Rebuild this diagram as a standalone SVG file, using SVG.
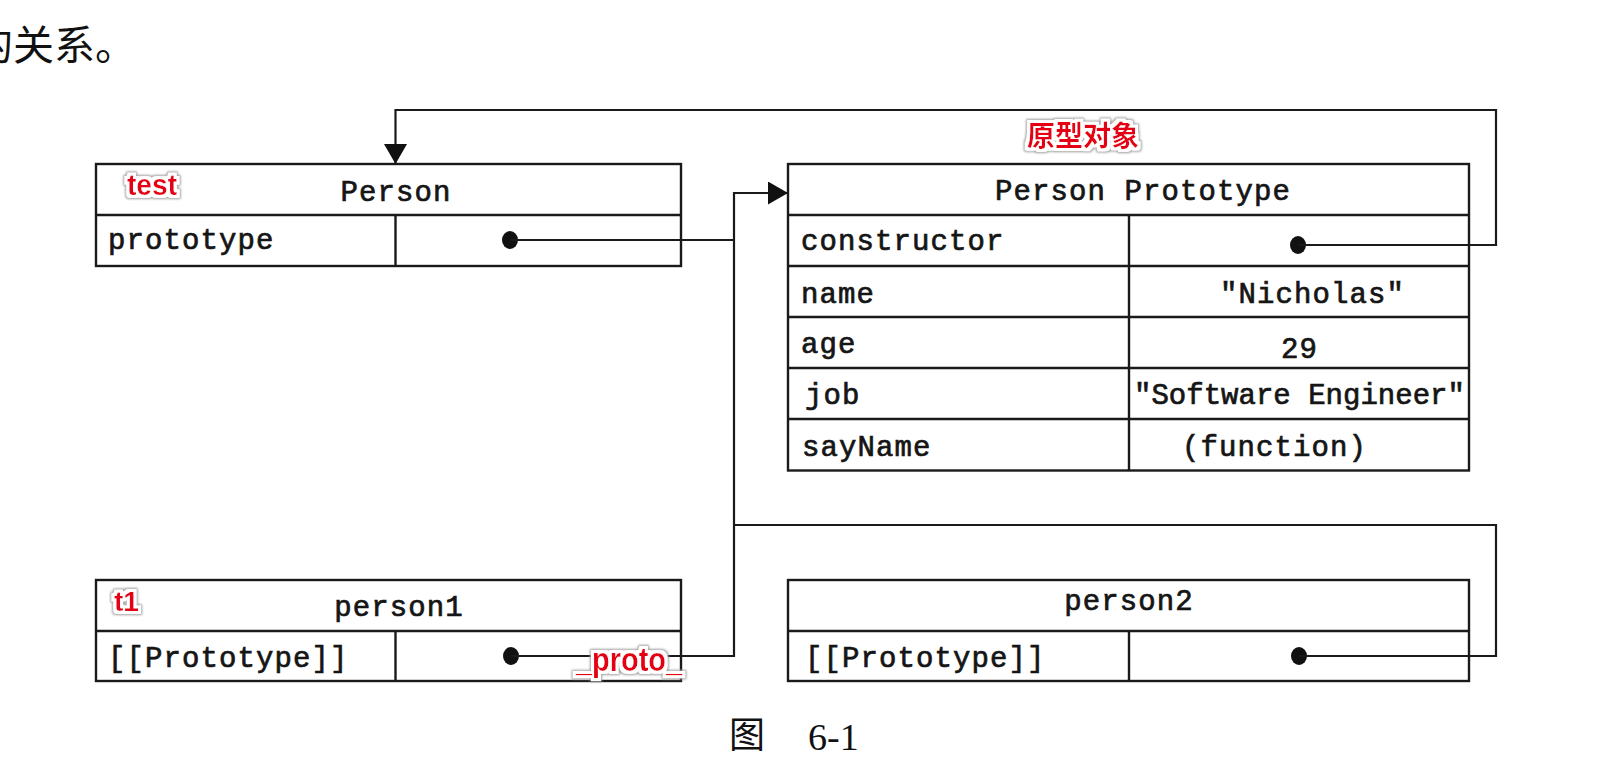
<svg xmlns="http://www.w3.org/2000/svg" width="1598" height="758" viewBox="0 0 1598 758">
<defs>
<style>
.box{fill:none;stroke:#1a1a1a;stroke-width:2.4}
.ln{fill:none;stroke:#1a1a1a;stroke-width:2.4}
.wire{fill:none;stroke:#1a1a1a;stroke-width:2.2}
.dot{fill:#111}
.mono{font-family:"Liberation Mono","Courier New",monospace;font-size:29px;letter-spacing:1.1px;fill:#151515;stroke:#151515;stroke-width:0.7px}
.mid{text-anchor:middle}
.tag{font-family:"Liberation Sans","Noto Sans CJK SC",sans-serif;font-weight:bold;fill:#e60012}
.cjk{font-family:"Noto Sans CJK SC",sans-serif;fill:#111}
.serif{font-family:"Liberation Serif","Noto Sans CJK SC",serif;fill:#111}
</style>
<marker id="arr" markerUnits="userSpaceOnUse" markerWidth="20" markerHeight="23" refX="20" refY="11.5" orient="auto">
<path d="M0 0 L20 11.5 L0 23 Z" fill="#111"/>
</marker>
<filter id="glow" x="-20%" y="-40%" width="140%" height="180%">
<feMorphology in="SourceAlpha" operator="dilate" radius="3.5" result="d"/>
<feGaussianBlur in="d" stdDeviation="1.2" result="b"/>
<feFlood flood-color="#a0a0a0"/>
<feComposite in2="b" operator="in" result="shadow"/>
<feMorphology in="SourceAlpha" operator="dilate" radius="2.5" result="d2"/>
<feFlood flood-color="#ffffff"/>
<feComposite in2="d2" operator="in" result="white"/>
<feMerge><feMergeNode in="shadow"/><feMergeNode in="white"/><feMergeNode in="SourceGraphic"/></feMerge>
</filter>
</defs>
<rect width="1598" height="758" fill="#fff"/>

<text id="intro" class="cjk" x="-28" y="60" font-size="41">的关系。</text>

<g id="node-person">
<rect class="box" x="96" y="164" width="585" height="102"/>
<path class="ln" d="M96 215 H681 M395.5 215 V266"/>
<text class="mono mid" x="396" y="201">Person</text>
<text class="mono" x="108" y="249">prototype</text>
<ellipse class="dot" cx="510" cy="240" rx="8" ry="9"/>
</g>

<g id="node-person-prototype">
<rect class="box" x="788" y="164" width="681" height="306.5"/>
<path class="ln" d="M788 215 H1469 M788 266 H1469 M788 317 H1469 M788 368 H1469 M788 419 H1469 M1129 215 V470.5"/>
<text class="mono mid" x="1143" y="200">Person Prototype</text>
<text class="mono" x="801" y="250">constructor</text>
<ellipse class="dot" cx="1298" cy="245" rx="8" ry="9"/>
<text class="mono" x="801" y="303">name</text>
<text class="mono" x="1220" y="303">"Nicholas"</text>
<text class="mono" x="801" y="353">age</text>
<text class="mono" x="1281" y="358">29</text>
<text class="mono" x="805" y="404">job</text>
<text class="mono" x="1134" y="404" textLength="332" lengthAdjust="spacing">"Software Engineer"</text>
<text class="mono" x="802" y="456">sayName</text>
<text class="mono" x="1182" y="456">(function)</text>
</g>

<g id="node-person1">
<rect class="box" x="96" y="580" width="585" height="101"/>
<path class="ln" d="M96 631 H681 M395.5 631 V681"/>
<text class="mono mid" x="399" y="616">person1</text>
<text class="mono" x="108" y="667">[[Prototype]]</text>
<ellipse class="dot" cx="511" cy="656" rx="8" ry="9"/>
</g>

<g id="node-person2">
<rect class="box" x="788" y="580" width="681" height="101"/>
<path class="ln" d="M788 631 H1469 M1129 631 V681"/>
<text class="mono mid" x="1129" y="610">person2</text>
<text class="mono" x="805" y="667">[[Prototype]]</text>
<ellipse class="dot" cx="1299" cy="656" rx="8" ry="9"/>
</g>

<g id="connectors">
<path class="wire" d="M1298 245 H1496 V110 H395.5 V164" marker-end="url(#arr)"/>
<path class="wire" d="M510 240 H734"/>
<path class="wire" d="M511 656 H734 V193 H788" marker-end="url(#arr)"/>
<path class="wire" d="M1299 656 H1496 V525 H734"/>
</g>

<g id="annotations">
<text class="tag" x="127" y="195" font-size="30" textLength="50" lengthAdjust="spacingAndGlyphs" filter="url(#glow)">test</text>
<text class="tag" x="1027" y="146" font-size="28" filter="url(#glow)">原型对象</text>
<text class="tag" x="114" y="611" font-size="28" filter="url(#glow)">t1</text>
<text class="tag" x="576" y="671" font-size="33" textLength="106" lengthAdjust="spacingAndGlyphs" filter="url(#glow)">_proto_</text>
</g>

<g id="caption">
<text class="cjk" x="729" y="748" font-size="36">图</text>
<text class="serif" x="808" y="750" font-size="38">6-1</text>
</g>
</svg>
